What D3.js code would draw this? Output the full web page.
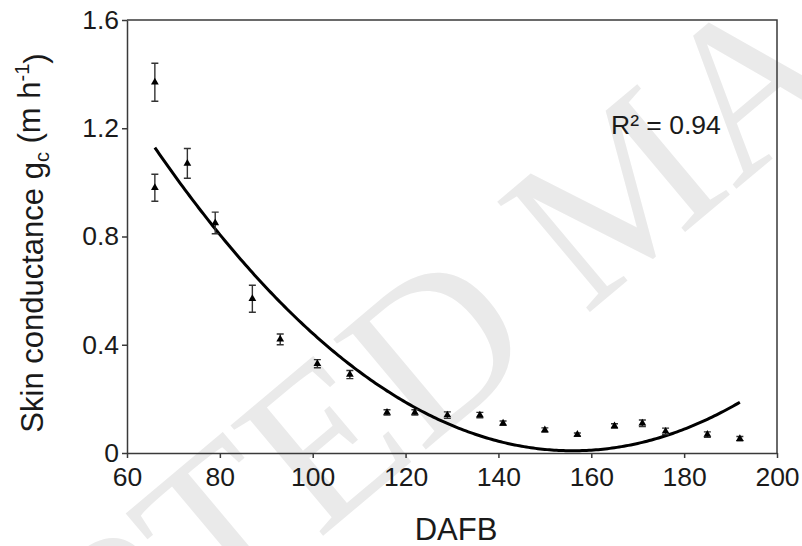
<!DOCTYPE html>
<html>
<head>
<meta charset="utf-8">
<script src="https://cdn.jsdelivr.net/npm/d3@7"></script>
<style>
  html, body { margin: 0; padding: 0; background: #fff; }
  svg { display: block; }
  text { font-family: "Liberation Sans", Arial, sans-serif; }
</style>
</head>
<body>
<svg id="chart" width="802" height="546"></svg>
<script>
// Skin conductance measured at each sampling date (days after full bloom)
const dafb        = [66, 66, 73, 79, 87, 93, 101, 108, 116, 122, 129, 136, 141, 150, 157, 165, 171, 176, 185, 192];
const conductance = [1.37, 0.98, 1.07, 0.85, 0.57, 0.42, 0.33, 0.29, 0.15, 0.15, 0.14, 0.14, 0.11, 0.085, 0.068, 0.10, 0.11, 0.08, 0.068, 0.053];
const stdError    = [0.07, 0.05, 0.055, 0.04, 0.05, 0.02, 0.015, 0.015, 0.01, 0.01, 0.012, 0.01, 0.008, 0.008, 0.006, 0.008, 0.012, 0.012, 0.01, 0.008];

// Quadratic regression g = a·x² + b·x + c, fitted over the sampled range
const fitCoef  = [0.0001383, -0.04315, 3.374];
const fitRange = [66, 192];
const rSquared = "0.94";

const xTicks = [60, 80, 100, 120, 140, 160, 180, 200];
const yTicks = [0, 0.4, 0.8, 1.2, 1.6];

const svg = d3.select("#chart");
const margin = { left: 127, top: 20, right: 25, bottom: 93 };
const W = 802, H = 546;

const x = d3.scaleLinear().domain([60, 200]).range([margin.left, W - margin.right]);
const y = d3.scaleLinear().domain([0, 1.6]).range([H - margin.bottom, margin.top]);

// Diagonal manuscript watermark, sitting behind the plot
svg.append("text")
  .attr("transform", "translate(-328,1082) rotate(-40)")
  .attr("font-size", 220)
  .attr("fill", "#eaeaea")
  .style("font-family", "'Liberation Serif', 'Times New Roman', serif")
  .text("ACCEPTED MANUSCRIPT");

const axisColor = "#3a3a3a";
const textColor = "#1a1a1a";

// Plot frame (top and right edges)
svg.append("path")
  .attr("d", `M${x(60)},${y(1.6)}H${x(200)}V${y(0)}`)
  .attr("fill", "none")
  .attr("stroke", axisColor)
  .attr("stroke-width", 1.5);

const xAxis = svg.append("g")
  .attr("transform", `translate(0,${y(0)})`)
  .call(d3.axisBottom(x).tickValues(xTicks).tickSize(5).tickPadding(9).tickSizeOuter(0));
const yAxis = svg.append("g")
  .attr("transform", `translate(${x(60)},0)`)
  .call(d3.axisLeft(y).tickValues(yTicks).tickSize(5).tickPadding(3).tickSizeOuter(0)
    .tickFormat(d => d === 0 ? "0" : d3.format(".1f")(d)));

[xAxis, yAxis].forEach(g => {
  g.select(".domain").attr("stroke", axisColor).attr("stroke-width", 1.5);
  g.selectAll(".tick line").attr("stroke", axisColor).attr("stroke-width", 1.5);
  g.selectAll(".tick text")
    .attr("fill", textColor)
    .attr("font-size", 26.5)
    .style("font-family", "'Liberation Sans', Arial, sans-serif");
});

// Fitted curve
const fit = v => fitCoef[0] * v * v + fitCoef[1] * v + fitCoef[2];
const curveX = d3.range(fitRange[0], fitRange[1] + 0.01, 0.5);
svg.append("path")
  .datum(curveX)
  .attr("d", d3.line().x(d => x(d)).y(d => y(fit(d))))
  .attr("fill", "none")
  .attr("stroke", "#000")
  .attr("stroke-width", 3);

// Error bars
const pts = dafb.map((d, i) => ({ x: d, y: conductance[i], e: stdError[i] }));
const capW = 3.5;
const bars = svg.append("g")
  .attr("stroke", "#333")
  .attr("stroke-width", 1.4)
  .attr("fill", "none");
bars.selectAll("path")
  .data(pts)
  .join("path")
  .attr("d", p => {
    const cx = x(p.x), y0 = y(p.y - p.e), y1 = y(p.y + p.e);
    return `M${cx},${y0}V${y1}M${cx - capW},${y0}H${cx + capW}M${cx - capW},${y1}H${cx + capW}`;
  });

// Triangle markers
const tri = d3.symbol().type(d3.symbolTriangle).size(26);
svg.append("g")
  .selectAll("path")
  .data(pts)
  .join("path")
  .attr("transform", p => `translate(${x(p.x)},${y(p.y)})`)
  .attr("d", tri)
  .attr("fill", "#000");

// R² annotation
svg.append("text")
  .attr("x", 611)
  .attr("y", 134)
  .attr("font-size", 26.5)
  .attr("fill", textColor)
  .text(`R² = ${rSquared}`);

// Axis titles
svg.append("text")
  .attr("x", (x(60) + x(200)) / 2 + 4)
  .attr("y", 540)
  .attr("text-anchor", "middle")
  .attr("font-size", 31)
  .attr("fill", textColor)
  .text("DAFB");

const yTitle = svg.append("text")
  .attr("transform", "translate(43,243) rotate(-90)")
  .attr("text-anchor", "middle")
  .attr("font-size", 31)
  .attr("fill", textColor);
yTitle.append("tspan").text("Skin conductance g");
yTitle.append("tspan").attr("font-size", 20).attr("dy", "0.3em").text("c");
yTitle.append("tspan").attr("dy", "-0.3em").text(" (m h");
yTitle.append("tspan").attr("font-size", 20).attr("dy", "-0.55em").text("-1");
yTitle.append("tspan").attr("dy", "0.55em").text(")");
</script>
</body>
</html>
